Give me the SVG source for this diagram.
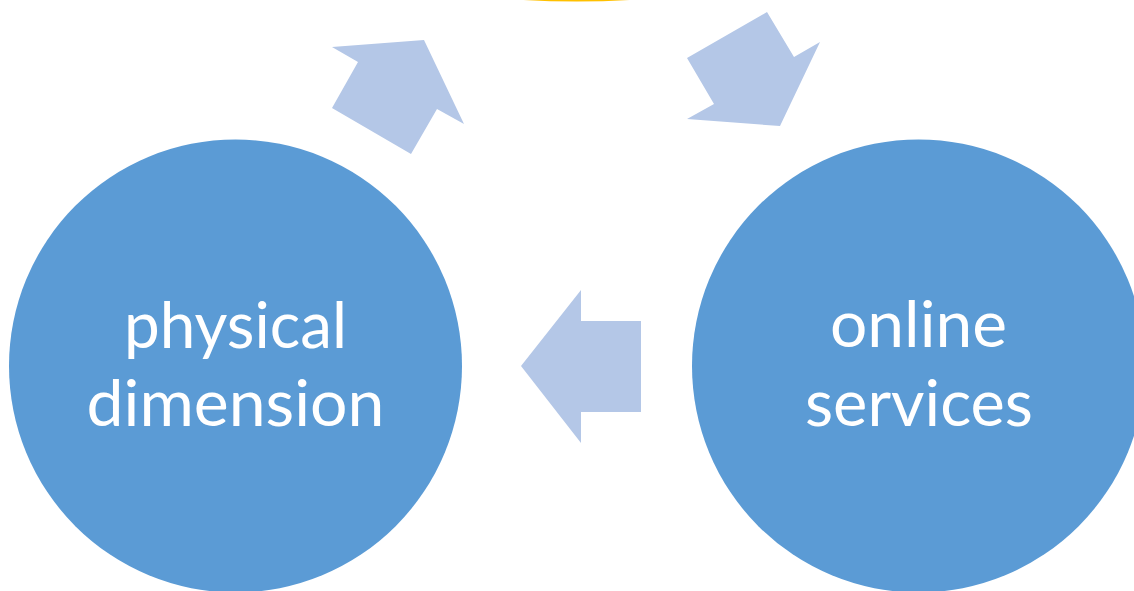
<svg xmlns="http://www.w3.org/2000/svg" width="1134" height="591" viewBox="0 0 1134 591">
  <style>
    .node { fill: #5B9BD5; }
    .arrow { fill: #B4C7E7; }
    .label { fill: #FFFFFF; font-family: Lato, "Open Sans", "Liberation Sans", sans-serif; font-size: 64px; text-anchor: middle; }
  </style>
  <rect width="1134" height="591" fill="#FFFFFF"/>
  <g id="node-top">
    <circle cx="576.5" cy="-934.5" r="936" fill="#FFC000"/>
  </g>
  <g id="node-physical">
    <circle class="node" cx="235.5" cy="366" r="226.5"/>
    <text class="label" x="235.5" y="348" textLength="223" lengthAdjust="spacingAndGlyphs">physical</text>
    <text class="label" x="235.5" y="426" textLength="298" lengthAdjust="spacingAndGlyphs">dimension</text>
  </g>
  <g id="node-online">
    <circle class="node" cx="918.5" cy="366" r="226.5"/>
    <text class="label" x="918.5" y="347" textLength="177" lengthAdjust="spacingAndGlyphs">online</text>
    <text class="label" x="919" y="426" textLength="228" lengthAdjust="spacingAndGlyphs">services</text>
  </g>
  <g id="connectors">
    <polygon class="arrow" points="332,47 424,40 464,124 437,109 411,154 332,108 358,62"/>
    <polygon class="arrow" points="767,12 794,57 820,42 780,126 687,119 714,104 687,58"/>
    <polygon class="arrow" points="521,366 581,290 581,321 641,321 641,412 581,412 581,443"/>
  </g>
</svg>
